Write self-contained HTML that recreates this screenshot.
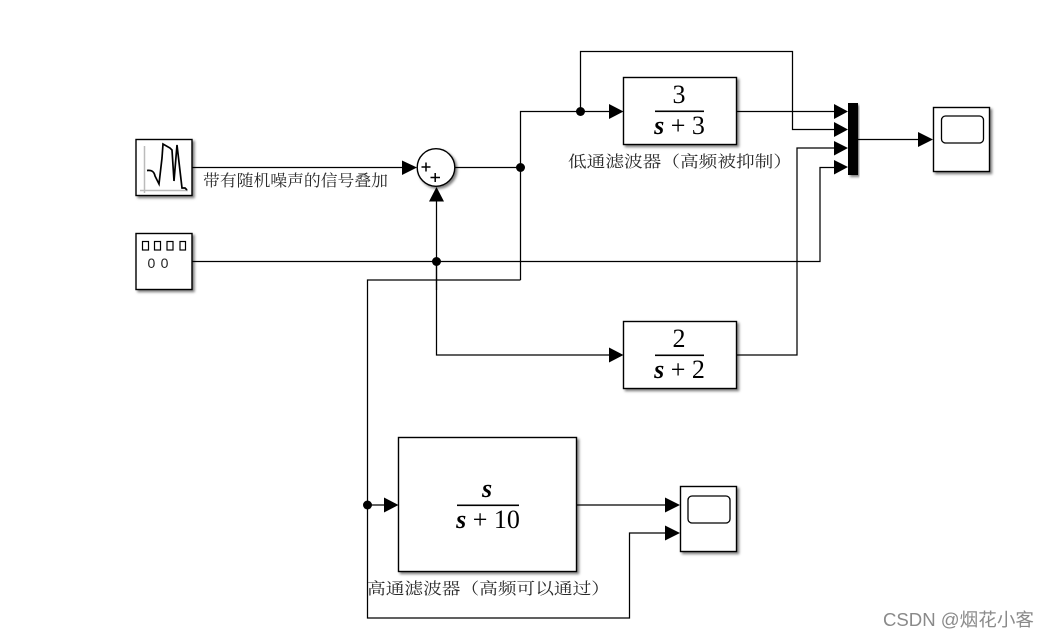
<!DOCTYPE html>
<html><head><meta charset="utf-8">
<style>
html,body{margin:0;padding:0;background:#fff;width:1048px;height:639px;overflow:hidden}
svg{display:block}
.z{font-family:"Liberation Serif","Noto Serif CJK SC",serif;font-size:16px;fill:#2a2a2a}
.m{font-family:"Liberation Serif",serif;fill:#000}
.b{fill:#fff;stroke:#000;stroke-width:1.4;filter:url(#s)}
.l{fill:none;stroke:#000;stroke-width:1.25}
</style></head><body>
<svg width="1048" height="639" viewBox="0 0 1048 639" xmlns="http://www.w3.org/2000/svg">
<defs><filter id="s" x="-10%" y="-10%" width="125%" height="125%"><feDropShadow dx="2" dy="2" stdDeviation="1.2" flood-color="#000" flood-opacity=".5"/></filter></defs>
<rect width="1048" height="639" fill="#fff"/>

<!-- wires -->
<g class="l">
<path d="M192 167.5H404"/>
<path d="M192 261.5H820V167.5H836"/>
<path d="M436.500 290V201"/>
<path d="M436.500 261.500V355H610"/>
<path d="M455 167.500H520.500"/>
<path d="M520.500 280V111.500H610"/>
<path d="M520.500 280H367.500V618H629.500V533H667"/>
<path d="M580.500 111.500V51.500H792.500V129.500H836"/>
<path d="M736 111.500H836"/>
<path d="M736 355H797V148H836"/>
<path d="M858 139.500H920"/>
<path d="M367.500 505H386"/>
<path d="M577 505H667"/>
</g>

<!-- blocks -->
<rect class="b" x="136" y="139.500" width="56" height="56"/>
<rect class="b" x="136" y="233.500" width="56" height="56"/>
<rect class="b" x="623.500" y="77.500" width="113" height="67"/>
<rect class="b" x="623.500" y="321.500" width="113" height="67"/>
<rect class="b" x="398.500" y="437.500" width="178" height="134"/>
<rect class="b" x="933.500" y="107.500" width="56" height="64"/>
<rect class="b" x="680.500" y="486.500" width="56" height="65"/>
<rect x="848" y="103" width="10" height="72" fill="#000" filter="url(#s)"/>
<circle class="b" cx="436" cy="167.500" r="18.800"/>

<!-- source icon -->
<path d="M144.500 146V193M140 190.500H188" fill="none" stroke="#bbb" stroke-width="1.500"/>
<path d="M147 170.500C151 170 154 171 155 176L159 184L162 158L163 144L170 148L172 150L174 181L177 145L182 188H185L187 190" fill="none" stroke="#000" stroke-width="1.700"/>

<!-- clock icon -->
<g fill="none" stroke="#000" stroke-width="1.200">
<rect x="142.500" y="241.500" width="6" height="8.500"/>
<rect x="154.500" y="241.500" width="6" height="8.500"/>
<rect x="167" y="241.500" width="6" height="8.500"/>
<rect x="180" y="241.500" width="5.500" height="8.500"/>
</g>
<text x="147.500" y="268" style="font-family:'Liberation Sans',sans-serif;font-size:14px;letter-spacing:.7px" fill="#222">0 0</text>

<!-- scope screens -->
<rect x="941.500" y="116" width="42" height="27" rx="4" fill="none" stroke="#000" stroke-width="1.300"/>
<rect x="688" y="496" width="42" height="27" rx="4" fill="none" stroke="#000" stroke-width="1.300"/>

<!-- sum signs -->
<path d="M421.500 167H430.500M426 162.500V171.500M430.500 177.500H440M435.200 173V182" stroke="#000" stroke-width="1.500" fill="none"/>

<!-- arrows -->
<g fill="#000">
<path d="M402 160.500L417 167.500L402 175Z"/>
<path d="M429 201.500L436.500 187L444 201.500Z"/>
<path d="M609 104L623.500 111.500L609 119Z"/>
<path d="M609 347.500L623.500 355L609 362.500Z"/>
<path d="M834 104L848 111.500L834 119Z"/>
<path d="M834 122L848 129.500L834 137Z"/>
<path d="M834 141L848 148L834 155.500Z"/>
<path d="M834 160L848 167L834 174.500Z"/>
<path d="M918 132L933 139.500L918 147Z"/>
<path d="M384 497.500L398.500 505L384 512.500Z"/>
<path d="M665 497.500L680 505L665 512.500Z"/>
<path d="M665 525.500L680 533L665 540.500Z"/>
<circle cx="436.500" cy="261.500" r="4.500"/>
<circle cx="520.500" cy="167.500" r="4.500"/>
<circle cx="580.500" cy="111.500" r="4.500"/>
<circle cx="367.500" cy="505" r="4.500"/>
</g>

<!-- transfer functions -->
<g class="m" text-anchor="middle">
<text x="679" y="103" font-size="26">3</text>
<rect x="655" y="110.500" width="49" height="1.600"/>
<text x="679.500" y="134" font-size="26"><tspan font-style="italic" font-weight="bold">s</tspan> + 3</text>
<text x="679" y="347" font-size="26">2</text>
<rect x="655" y="354.500" width="49" height="1.600"/>
<text x="679.500" y="378" font-size="26"><tspan font-style="italic" font-weight="bold">s</tspan> + 2</text>
<text x="487" y="497" font-size="26" font-style="italic" font-weight="bold">s</text>
<rect x="457" y="504.500" width="62" height="1.600"/>
<text x="488" y="528" font-size="26"><tspan font-style="italic" font-weight="bold">s</tspan> + 10</text>
</g>

<!-- labels -->
<text class="z" x="203" y="186" textLength="185" lengthAdjust="spacingAndGlyphs">带有随机噪声的信号叠加</text>
<text class="z" x="568" y="167" textLength="224" lengthAdjust="spacingAndGlyphs">低通滤波器（高频被抑制）</text>
<text class="z" x="367" y="594" textLength="243" lengthAdjust="spacingAndGlyphs">高通滤波器（高频可以通过）</text>
<text x="883" y="626" style="font-family:'Liberation Sans','Noto Sans CJK SC',sans-serif;font-size:18px" fill="#8a8a8a" textLength="151" lengthAdjust="spacingAndGlyphs">CSDN @烟花小客</text>
</svg>
</body></html>
